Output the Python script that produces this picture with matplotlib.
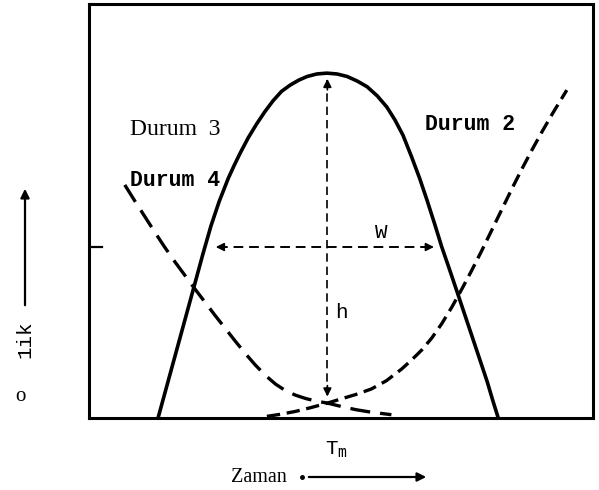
import matplotlib.pyplot as plt

# Kromatografik pik durumları: çizim birimleri 0-100 arası
durum3_x = [13.7, 15.5, 17.3, 19.1, 20.9, 22.6, 24.2, 25.8, 27.6, 28.8, 30.0, 31.6, 33.3, 34.9, 36.5,
            38.2, 39.9, 41.6, 43.3, 45.2, 47.2, 49.2, 51.2, 53.2, 55.2, 57.2, 59.1, 60.7, 62.3, 64.0,
            65.6, 67.1, 68.6, 70.0, 71.5, 73.0, 74.6, 76.2, 77.6, 79.0, 80.1, 81.2]
durum3_y = [0, 8.0, 16.0, 24.0, 32.0, 39.6, 46.4, 52.2, 57.8, 61.0, 64.0, 67.7, 71.1, 74.0, 76.6,
            78.9, 80.4, 81.6, 82.5, 83.1, 83.3, 83.1, 82.5, 81.4, 80.0, 77.8, 75.1, 72.0, 68.3, 63.1,
            57.9, 52.5, 46.8, 41.3, 36.0, 30.6, 24.8, 19.0, 13.9, 8.8, 4.3, 0]

durum2_x = [35.3, 38, 41, 44, 47.3, 50, 53, 56, 59, 62, 64, 66, 68, 70, 72, 74, 76, 78, 80, 82,
            84, 86, 88, 90, 92, 94.8]
durum2_y = [0.4, 0.9, 1.6, 2.5, 3.6, 4.6, 5.7, 7.0, 9.0, 11.8, 14.0, 16.4, 19.3, 22.8, 26.8, 31.2,
            35.8, 40.6, 45.6, 50.6, 55.6, 60.4, 65.0, 69.4, 73.6, 79.2]

durum4_x = [7.1, 9, 11, 13, 15, 17, 19, 21, 23, 25, 27, 29, 31, 33, 35, 37, 39, 41, 43, 45, 47.3,
            50, 53, 56, 60]
durum4_y = [56.3, 52.6, 48.8, 45.0, 41.3, 37.8, 34.5, 31.2, 28.0, 24.8, 21.7, 18.6, 15.6, 12.8,
            10.3, 8.2, 6.6, 5.5, 4.7, 4.1, 3.6, 2.8, 2.0, 1.4, 0.8]

t_m = 47.3          # pik tepe zamanı
h_top, h_bottom = 82.6, 4.5
w_y = 41.3          # yarı yükseklik
w_left, w_right = 24.6, 69.0

W, H = 599, 490
fig = plt.figure(figsize=(W / 100, H / 100), dpi=100)
ax = fig.add_axes([89 / W, 72 / H, 504 / W, 414 / H])
ax.set_xlim(0, 100)
ax.set_ylim(0, 100)
ax.set_xticks([])
ax.set_yticks([])
for s in ax.spines.values():
    s.set_linewidth(2.2)

ax.plot(durum3_x, durum3_y, color='black', lw=2.6, solid_capstyle='butt', solid_joinstyle='round')
ax.plot(durum2_x, durum2_y, color='black', lw=2.4, dashes=(4, 2))
ax.plot(durum4_x, durum4_y, color='black', lw=2.4, dashes=(6, 3))

# h oku
ax.plot([t_m, t_m], [h_bottom + 1, h_top - 1], color='black', lw=1.2, dashes=(5, 3))
ax.annotate('', xy=(t_m, h_top), xytext=(t_m, h_top - 4),
            arrowprops=dict(arrowstyle='-|>', color='black', lw=1.2, mutation_scale=12))
ax.annotate('', xy=(t_m, h_bottom), xytext=(t_m, h_bottom + 4),
            arrowprops=dict(arrowstyle='-|>', color='black', lw=1.2, mutation_scale=12))

# W oku
ax.plot([0, 2.6], [w_y, w_y], color='black', lw=1.6)
ax.plot([w_left + 1, w_right - 1], [w_y, w_y], color='black', lw=1.4, dashes=(5, 3))
ax.annotate('', xy=(w_left, w_y), xytext=(w_left + 3, w_y),
            arrowprops=dict(arrowstyle='-|>', color='black', lw=1.2, mutation_scale=12))
ax.annotate('', xy=(w_right, w_y), xytext=(w_right - 3, w_y),
            arrowprops=dict(arrowstyle='-|>', color='black', lw=1.2, mutation_scale=12))

mono = 'Liberation Mono'
serif = 'Liberation Serif'

def fx(px):
    return px / W

def fy(py):
    return 1 - py / H

fig.text(fx(130), fy(129), 'Durum  3', family=serif, fontsize=17, va='center', ha='left')
fig.text(fx(130), fy(181), 'Durum 4', family=mono, fontsize=15.5, weight='bold', va='center', ha='left')
fig.text(fx(425), fy(125), 'Durum 2', family=mono, fontsize=15.5, weight='bold', va='center', ha='left')
fig.text(fx(381), fy(233), 'W', family=mono, fontsize=15, va='center', ha='center')
fig.text(fx(341), fy(313), 'h', family=mono, fontsize=15, va='center', ha='center')
fig.text(fx(336), fy(450), r'T$_{\mathtt{m}}$', family=mono, fontsize=15, va='center', ha='center')

# eksen başlıkları
fig.text(fx(25), fy(339), '1ik', family=mono, fontsize=15, rotation=90, va='center', ha='center')
fig.text(fx(20), fy(396), 'o', family=serif, fontsize=15, va='center', ha='center')
ax.annotate('', xy=(fx(25), fy(186)), xytext=(fx(25), fy(308)),
            xycoords='figure fraction', textcoords='figure fraction', annotation_clip=False,
            arrowprops=dict(arrowstyle='-|>', color='black', lw=1.6, mutation_scale=13))

fig.text(fx(231), fy(477), 'Zaman', family=serif, fontsize=14.5, va='center', ha='left')
ax.plot([fx(302)], [fy(477)], 'o', color='black', ms=2.5, transform=fig.transFigure, clip_on=False)
ax.annotate('', xy=(fx(429), fy(477)), xytext=(fx(306), fy(477)),
            xycoords='figure fraction', textcoords='figure fraction', annotation_clip=False,
            arrowprops=dict(arrowstyle='-|>', color='black', lw=1.6, mutation_scale=13))

fig.savefig('out.png', dpi=100)
